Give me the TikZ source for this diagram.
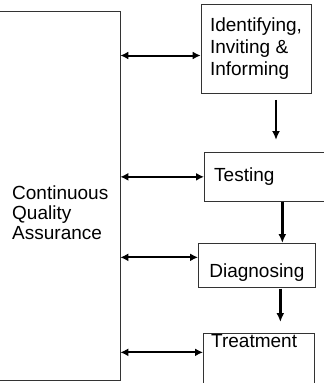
\documentclass[tikz,border=0pt]{standalone}
\usepackage{fontspec}
\setmainfont{Liberation Sans}
\usetikzlibrary{arrows,arrows.meta,positioning}
\tikzset{>=latex}

\begin{document}
\begin{tikzpicture}[x=1pt, y=-1pt,
	box/.style={draw=black!80, line width=0.7pt, inner sep=0pt, font=\fontsize{19}{22}\selectfont},
	txt/.style={font=\fontsize{19}{22}\selectfont, inner sep=0pt},
	link/.style={{Latex[length=8pt,width=8pt]}-{Latex[length=8pt,width=8pt]}, line width=2pt},
	flow/.style={-{Latex[length=9pt,width=8pt]}, line width=2.6pt}]
		\useasboundingbox (0,0) rectangle (324,383);
		% left column
		\node[box, minimum width=126pt, minimum height=369pt] (cqa) at (57,196) {};
		\node[txt, font=\fontsize{19}{20}\selectfont, align=left, anchor=west] (cqalbl) at (12,213) {Continuous\\Quality\\Assurance};

		% steps
		\node[box, minimum width=110pt, minimum height=89pt, align=left] (ident) at (256,49) {Identifying,\\Inviting \&\\Informing};
		\node[box, minimum width=126pt, minimum height=49pt, anchor=north west] (test) at (204,152) {};
		\node[box, minimum width=117pt, minimum height=44pt, anchor=north west] (diag) at (198,243) {};
		\node[box, minimum width=111pt, minimum height=57pt, anchor=north west] (treat) at (203,333) {};
		\node[txt, anchor=west] (testlbl) at ([xshift=10pt]test.west) {Testing};
		\node[txt, anchor=base] (diaglbl) at ([yshift=10pt]diag.south) {Diagnosing};
		\node[txt, anchor=north west] (treatlbl) at ([xshift=8pt,yshift=-1pt]treat.north west) {Treatment};

		\path (ident.west) ++(0,6.5) coordinate (a1)
			(test.west) ++(0,0) coordinate (a2)
			(diag.west) ++(0,-8) coordinate (a3)
			(treat.west) ++(0,-9.5) coordinate (a4);
		\foreach \a in {a1,a2,a3,a4}
			\draw[link] (cqa.east |- \a) -- (\a);

		\draw[flow, shorten <=6pt, shorten >=12pt] ([xshift=20pt]ident.south) -- ([xshift=20pt]ident.south |- test.north);
		\draw[flow] ([xshift=15pt]test.south) -- ([xshift=15pt]test.south |- diag.north);
		\draw[flow, shorten <=1pt, shorten >=11pt] ([xshift=23.5pt]diag.south) -- ([xshift=23.5pt]diag.south |- treat.north);
	\end{tikzpicture}
\end{document}
